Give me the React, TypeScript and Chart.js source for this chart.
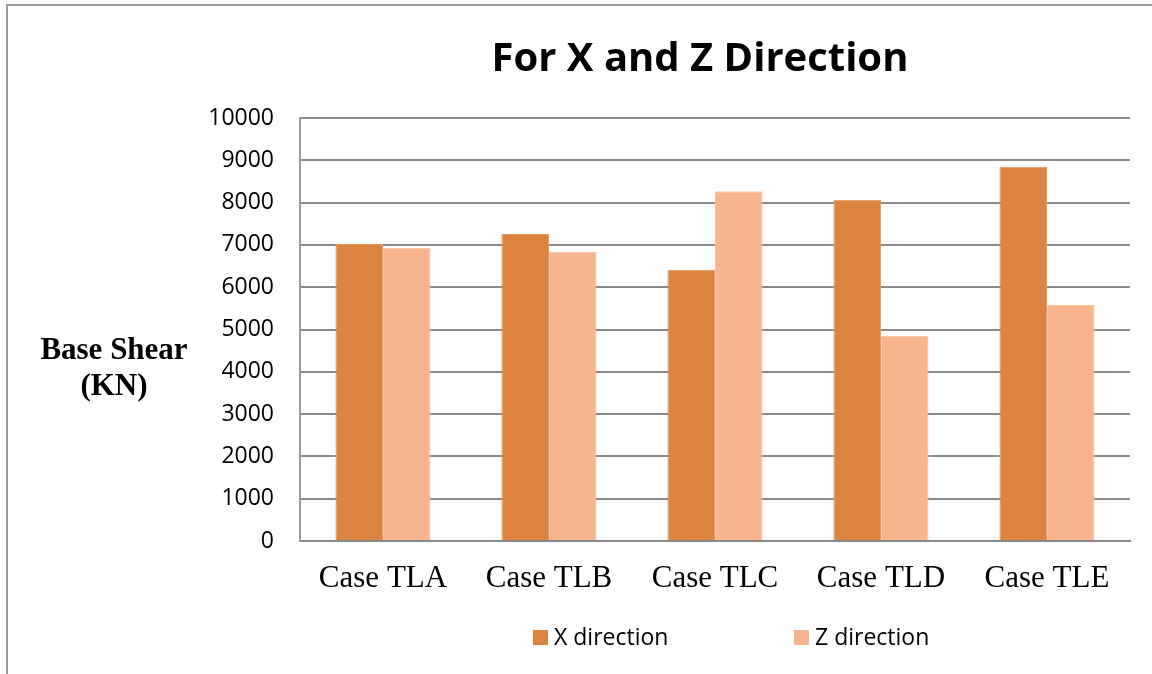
import React, { useEffect, useRef } from "react";
import { Chart, registerables } from "chart.js";

Chart.register(...registerables);

const categories = ["Case TLA", "Case TLB", "Case TLC", "Case TLD", "Case TLE"];
const xDirection = [7020, 7260, 6410, 8070, 8850];
const zDirection = [6930, 6840, 8270, 4850, 5580];
const seriesNames = ["X direction", "Z direction"];
const chartTitle = "For X and Z Direction";
const yTitleLines = ["Base Shear", "(KN)"];

const X_COLOR = "#DB8440";
const Z_COLOR = "#F8B48F";
const GRID = "#8a8a8a";

const decorPlugin = {
  id: "decor",
  afterDraw(chart: any) {
    const ctx = chart.ctx;
    const a = chart.chartArea;
    ctx.save();
    // title
    ctx.fillStyle = "#000";
    ctx.font = "bold 40px 'Open Sans'";
    ctx.textAlign = "center";
    ctx.textBaseline = "middle";
    ctx.fillText(chartTitle, a.left + 400, 60);
    // y title
    ctx.font = "bold 31px 'Liberation Serif'";
    ctx.fillText(yTitleLines[0], 114, 351);
    ctx.fillText(yTitleLines[1], 114, 387);
    // legend
    const colors = [X_COLOR, Z_COLOR];
    const xs = [533, 794];
    ctx.font = "23px 'Open Sans'";
    ctx.textAlign = "left";
    for (let i = 0; i < 2; i++) {
      ctx.fillStyle = colors[i];
      ctx.fillRect(xs[i], 630, 15, 15);
      ctx.fillStyle = "#000";
      ctx.fillText(seriesNames[i], xs[i] + 21, 638);
    }
    ctx.restore();
  },
};

export default function App() {
  const ref = useRef<HTMLCanvasElement>(null);
  useEffect(() => {
    if (!ref.current) return;
    const chart = new Chart(ref.current, {
      type: "bar",
      data: {
        labels: categories,
        datasets: [
          {
            label: seriesNames[0],
            data: xDirection,
            backgroundColor: X_COLOR,
            borderColor: "#E49A60",
            borderWidth: 1,
            categoryPercentage: 0.573,
            barPercentage: 1,
          },
          {
            label: seriesNames[1],
            data: zDirection,
            backgroundColor: Z_COLOR,
            borderColor: "#FBC6A8",
            borderWidth: 1,
            categoryPercentage: 0.573,
            barPercentage: 1,
          },
        ],
      },
      options: {
        responsive: false,
        animation: false,
        layout: { padding: { top: 118, right: 22, left: 0, bottom: 0 } },
        plugins: {
          legend: { display: false },
          title: { display: false },
          tooltip: { enabled: false },
        },
        scales: {
          x: {
            grid: { display: false, drawTicks: false },
            border: { display: true, color: GRID, width: 2 },
            ticks: {
              color: "#000",
              font: { family: "'Liberation Serif'", size: 31 },
              padding: 19,
            },
            afterFit: (s: any) => {
              s.height = 133;
            },
          },
          y: {
            min: 0,
            max: 10000,
            grid: { color: GRID, lineWidth: 2, drawTicks: false },
            border: { display: true, color: "#9a9a9a", width: 2 },
            ticks: {
              stepSize: 1000,
              color: "#000",
              font: { family: "'Open Sans'", size: 23 },
              padding: 26,
              callback: (v: any) => String(v),
            },
            afterFit: (s: any) => {
              s.width = 300;
            },
          },
        },
      },
      plugins: [decorPlugin],
    });
    return () => chart.destroy();
  }, []);
  return (
    <div>
      <div
        style={{
          position: "fixed",
          left: 6,
          top: 4,
          right: 0,
          bottom: 0,
          borderTop: "2px solid #9a9a9a",
          borderLeft: "2px solid #9a9a9a",
        }}
      />
      <canvas
        ref={ref}
        width={1152}
        height={674}
        style={{ position: "fixed", left: 0, top: 0 }}
      />
    </div>
  );
}
